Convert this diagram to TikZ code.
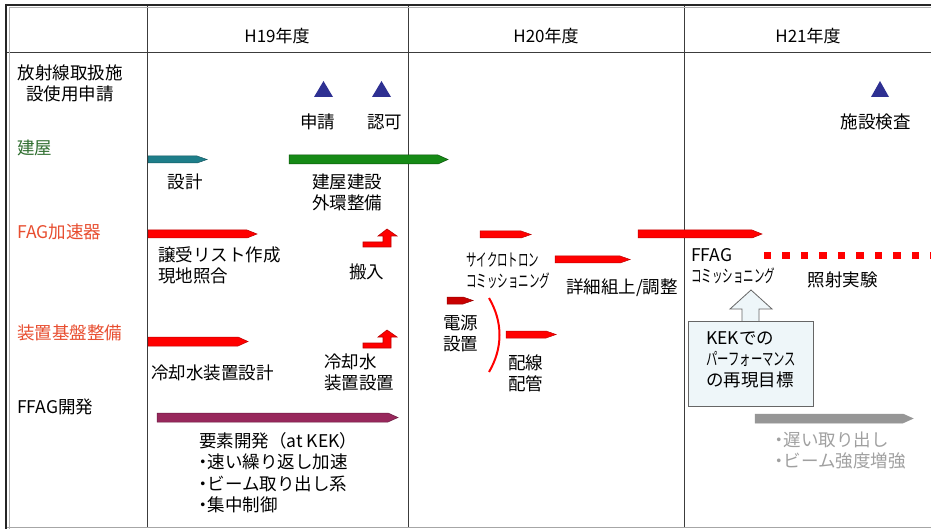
\documentclass[tikz,border=0pt]{standalone}
\usepackage{fontspec}
\setmainfont{Noto Sans CJK JP}
\usepackage{graphicx}
\definecolor{navytri}{RGB}{46,48,146}
\definecolor{tealar}{RGB}{30,126,138}
\definecolor{greenar}{RGB}{22,138,22}
\definecolor{greenlab}{RGB}{50,112,50}
\definecolor{redlab}{RGB}{232,78,48}
\definecolor{redar}{RGB}{255,0,0}
\definecolor{redline}{RGB}{190,0,0}
\definecolor{darkredar}{RGB}{200,0,0}
\definecolor{purplear}{RGB}{152,40,92}
\definecolor{grayar}{RGB}{150,150,150}
\definecolor{graytxt}{RGB}{160,160,160}
\definecolor{boxfill}{RGB}{238,246,249}
\definecolor{gridline}{RGB}{60,60,60}
\newcommand\BlkArr[5]{%
  \filldraw[#1] (#2,{#4-#5/2}) -- ({#3-10},{#4-#5/2}) -- (#3,#4) -- ({#3-10},{#4+#5/2}) -- (#2,{#4+#5/2}) -- cycle;}
\newcommand\BentArr[1]{%
  \filldraw[bentar] (363,{#1+13}) -- (383,{#1+13}) -- (383,{#1+7}) -- (378,{#1+7}) -- (387,#1) -- (397,{#1+7}) -- (391,{#1+7}) -- (391,{#1+18}) -- (363,{#1+18}) -- cycle;}
\newcommand\Narrow[2]{\scalebox{#1}[1]{#2}}
\newcommand\BulDot{\hbox to 0.5em{\hss・\hss}}
\tikzset{
  lbl/.style={inner sep=0pt, font=\fontsize{17.5}{21}\selectfont},
  hdr/.style={inner sep=0pt, font=\fontsize{17}{21}\selectfont},
  tri/.style={fill=navytri},
  redarrow/.style={fill=redar, draw=redline, line width=0.5pt},
  bentar/.style={fill=redar, draw=redline, line width=0.6pt},
  grid/.style={draw=gridline, line width=1pt}
}
\begin{document}
\begin{tikzpicture}[x=1pt,y=-1pt]
\useasboundingbox (0,0) rectangle (931,529);
\fill[white] (0,0) rectangle (931,529);
% table
\draw[grid] (147,5) -- (147,527);
\draw[grid] (408,5) -- (408,527);
\draw[grid] (684,5) -- (684,527);
\draw[grid] (6,53) -- (931,53);
\draw[draw=gray!70, line width=1pt] (6,527) -- (931,527);
\draw[draw=gray!60, line width=1pt] (9,8) -- (931,8);
\draw[draw=gray!60, line width=1pt] (9,8) -- (9,529);
\draw[draw=black!85, line width=2.5pt] (5,5) -- (931,5);
\draw[draw=black!85, line width=2.5pt] (6,4) -- (6,529);
% headers
\node[hdr] (h19) at (277,36) {H19年度};
\node[hdr] (h20) at (546,36) {H20年度};
\node[hdr] (h21) at (808,36) {H21年度};
% row labels
\node[lbl, align=center] (r1) at (70,83) {放射線取扱施\\設使用申請};
\node[lbl, anchor=west, text=greenlab] (r2) at (17,148) {建屋};
\node[lbl, anchor=west, text=redlab] (r3) at (17,232) {FAG加速器};
\node[lbl, anchor=west, text=redlab] (r4) at (17,333) {装置基盤整備};
\node[lbl, anchor=west] (r5) at (17,407) {FFAG開発};
% triangles
\fill[tri] (314,97) -- (333,97) -- (323.5,81) -- cycle;
\fill[tri] (372,97) -- (391,97) -- (381.5,81) -- cycle;
\fill[tri] (871,97) -- (889,97) -- (880,81) -- cycle;
\node[lbl] (shinsei) at (317.5,122) {申請};
\node[lbl] (ninka) at (384.5,122) {認可};
\node[lbl] (kensa) at (875.5,122) {施設検査};
% building
\BlkArr{fill=tealar, draw=tealar!70!black, line width=0.5pt}{148}{207}{159.5}{7}
\BlkArr{fill=greenar, draw=greenar!60!black, line width=0.5pt}{289}{448}{159.5}{9}
\node[lbl] (sekkei) at (185,182) {設計};
\node[lbl, align=center] (kenchiku) at (347,192) {建屋建設\\外環整備};
% FAG
\BlkArr{redarrow}{148}{257}{234}{8}
\node[lbl, anchor=west, align=left] (joju) at (158,265) {譲受リスト作成\\現地照合};
\BentArr{229}
\node[lbl] (hannyu) at (366.5,272) {搬入};
% base
\BlkArr{redarrow}{148}{248}{341.5}{9}
\node[lbl, anchor=west] (reikyaku) at (151,373) {冷却水装置設計};
\BentArr{330}
\node[lbl, anchor=west, align=left] (reikyaku2) at (324,372.5) {冷却水\\装置設置};
% H20
\BlkArr{redarrow}{480}{531}{234.5}{7}
\node[lbl, anchor=west, align=left] (cyclo) at (466,271) {\Narrow{0.6}{サイクロトロン}\\\Narrow{0.6}{コミッショニング}};
\BlkArr{redarrow}{555}{630}{259.5}{7}
\node[lbl] (shosai) at (622,288) {詳細組上/調整};
\BlkArr{fill=darkredar, draw=redline!80!black, line width=0.5pt}{447}{473}{300.5}{7}
\node[lbl, align=center] (dengen) at (460.5,333) {電源\\設置};
\draw[draw=redar, line width=2pt] (489,298) .. controls (503,322) and (503,348) .. (489,372);
\BlkArr{redarrow}{506}{556}{334.5}{7}
\node[lbl, align=center] (haisen) at (525.5,373) {配線\\配管};
% FFAG commissioning
\BlkArr{redarrow}{638}{762}{234}{8}
\node[lbl, anchor=west, align=left] (ffagc) at (691,266) {FFAG\\\Narrow{0.6}{コミッショニング}};
\foreach \i in {0,...,9} \fill[redar] ({763.5+\i*18.5},252) rectangle +(7.5,7);
\node[lbl] (shosha) at (842.5,280) {照射実験};
% up arrow and box
\filldraw[fill=boxfill, draw=gray!80!black, line width=0.8pt] (742,321) -- (742,309) -- (730,309) -- (751,290) -- (772,309) -- (759,309) -- (759,321);
\filldraw[fill=boxfill, draw=gray!80!black, line width=0.8pt] (688,321) rectangle (813,406);
\node[lbl, anchor=west, align=left] (kekbox) at (706,360) {KEKでの\\\Narrow{0.65}{パーフォーマンス}\\の再現目標};
% FFAG dev
\BlkArr{fill=purplear, draw=purplear!70!black, line width=0.5pt}{157}{398}{417.5}{9}
\node[lbl, anchor=west, align=left, font=\fontsize{17.5}{21.5}\selectfont] (yoso) at (199,472.5) {要素開発（at KEK）\\\BulDot 速い繰り返し加速\\\BulDot ビーム取り出し系\\\BulDot 集中制御};
\BlkArr{fill=grayar, draw=grayar, line width=0.5pt}{755}{913}{418.5}{9}
\node[lbl, anchor=west, align=left, text=graytxt] (osoi) at (775,450) {\BulDot 遅い取り出し\\\BulDot ビーム強度増強};
\end{tikzpicture}
\end{document}
